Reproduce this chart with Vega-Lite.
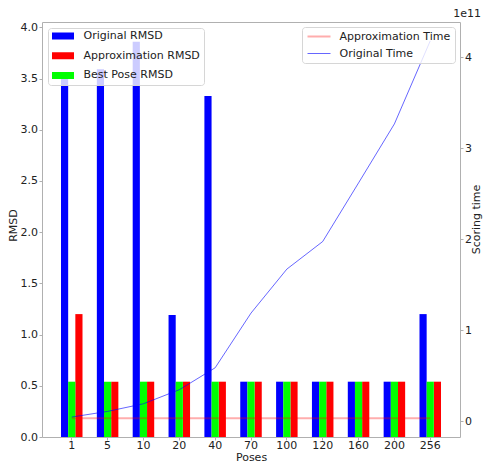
{
  "$schema": "https://vega.github.io/schema/vega-lite/v6.json",
  "width": 418,
  "height": 415,
  "autosize": {"type": "none"},
  "padding": {"left": 42, "top": 22, "right": 23, "bottom": 25},
  "background": "white",
  "config": {
    "font": "DejaVu Sans",
    "view": {"stroke": "#b0b0b0", "strokeWidth": 1},
    "axis": {
      "domain": false,
      "grid": false,
      "tickColor": "#b0b0b0",
      "tickSize": 3,
      "labelPadding": 1.5,
      "labelFontSize": 11,
      "labelColor": "#222222",
      "labelFont": "DejaVu Sans",
      "titleFont": "DejaVu Sans",
      "titleFontSize": 11,
      "titleFontWeight": "normal",
      "titleColor": "#222222"
    },
    "legend": {
      "labelFont": "DejaVu Sans",
      "labelFontSize": 11,
      "labelColor": "#222222",
      "fillColor": "rgba(255,255,255,0.8)",
      "strokeColor": "#d6d6d6",
      "cornerRadius": 3,
      "title": null
    }
  },
  "title": {
    "text": "1e11",
    "anchor": "end",
    "fontSize": 11,
    "fontWeight": "normal",
    "font": "DejaVu Sans",
    "color": "#222222",
    "offset": 2
  },
  "datasets": {
    "rmsd": [
      {"pose": "1", "series": "Original RMSD", "rmsd": 3.56},
      {"pose": "5", "series": "Original RMSD", "rmsd": 3.59},
      {"pose": "10", "series": "Original RMSD", "rmsd": 3.86},
      {"pose": "20", "series": "Original RMSD", "rmsd": 1.19},
      {"pose": "40", "series": "Original RMSD", "rmsd": 3.33},
      {"pose": "70", "series": "Original RMSD", "rmsd": 0.54},
      {"pose": "100", "series": "Original RMSD", "rmsd": 0.54},
      {"pose": "120", "series": "Original RMSD", "rmsd": 0.54},
      {"pose": "160", "series": "Original RMSD", "rmsd": 0.54},
      {"pose": "200", "series": "Original RMSD", "rmsd": 0.54},
      {"pose": "256", "series": "Original RMSD", "rmsd": 1.2},
      {"pose": "1", "series": "Approximation RMSD", "rmsd": 1.2},
      {"pose": "5", "series": "Approximation RMSD", "rmsd": 0.54},
      {"pose": "10", "series": "Approximation RMSD", "rmsd": 0.54},
      {"pose": "20", "series": "Approximation RMSD", "rmsd": 0.54},
      {"pose": "40", "series": "Approximation RMSD", "rmsd": 0.54},
      {"pose": "70", "series": "Approximation RMSD", "rmsd": 0.54},
      {"pose": "100", "series": "Approximation RMSD", "rmsd": 0.54},
      {"pose": "120", "series": "Approximation RMSD", "rmsd": 0.54},
      {"pose": "160", "series": "Approximation RMSD", "rmsd": 0.54},
      {"pose": "200", "series": "Approximation RMSD", "rmsd": 0.54},
      {"pose": "256", "series": "Approximation RMSD", "rmsd": 0.54},
      {"pose": "1", "series": "Best Pose RMSD", "rmsd": 0.54},
      {"pose": "5", "series": "Best Pose RMSD", "rmsd": 0.54},
      {"pose": "10", "series": "Best Pose RMSD", "rmsd": 0.54},
      {"pose": "20", "series": "Best Pose RMSD", "rmsd": 0.54},
      {"pose": "40", "series": "Best Pose RMSD", "rmsd": 0.54},
      {"pose": "70", "series": "Best Pose RMSD", "rmsd": 0.54},
      {"pose": "100", "series": "Best Pose RMSD", "rmsd": 0.54},
      {"pose": "120", "series": "Best Pose RMSD", "rmsd": 0.54},
      {"pose": "160", "series": "Best Pose RMSD", "rmsd": 0.54},
      {"pose": "200", "series": "Best Pose RMSD", "rmsd": 0.54},
      {"pose": "256", "series": "Best Pose RMSD", "rmsd": 0.54}
    ],
    "times": [
      {"pose": "1", "series": "Approximation Time", "time": 3600000000},
      {"pose": "5", "series": "Approximation Time", "time": 3600000000},
      {"pose": "10", "series": "Approximation Time", "time": 3600000000},
      {"pose": "20", "series": "Approximation Time", "time": 3600000000},
      {"pose": "40", "series": "Approximation Time", "time": 3600000000},
      {"pose": "70", "series": "Approximation Time", "time": 3600000000},
      {"pose": "100", "series": "Approximation Time", "time": 3600000000},
      {"pose": "120", "series": "Approximation Time", "time": 3600000000},
      {"pose": "160", "series": "Approximation Time", "time": 3600000000},
      {"pose": "200", "series": "Approximation Time", "time": 3600000000},
      {"pose": "256", "series": "Approximation Time", "time": 3600000000},
      {"pose": "1", "series": "Original Time", "time": 4800000000},
      {"pose": "5", "series": "Original Time", "time": 11000000000},
      {"pose": "10", "series": "Original Time", "time": 19400000000},
      {"pose": "20", "series": "Original Time", "time": 34800000000},
      {"pose": "40", "series": "Original Time", "time": 58900000000},
      {"pose": "70", "series": "Original Time", "time": 119000000000},
      {"pose": "100", "series": "Original Time", "time": 167300000000},
      {"pose": "120", "series": "Original Time", "time": 197600000000},
      {"pose": "160", "series": "Original Time", "time": 262000000000},
      {"pose": "200", "series": "Original Time", "time": 326800000000},
      {"pose": "256", "series": "Original Time", "time": 418000000000}
    ]
  },
  "encoding": {
    "x": {
      "field": "pose",
      "type": "ordinal",
      "scale": {
        "type": "band",
        "domain": ["1", "5", "10", "20", "40", "70", "100", "120", "160", "200", "256"],
        "paddingInner": 0,
        "paddingOuter": 0.33
      },
      "axis": {"title": "Poses", "labelAngle": 0, "labelPadding": -1, "titleBaseline": "alphabetic", "titleY": 23}
    }
  },
  "layer": [
    {
      "data": {"name": "rmsd"},
      "mark": {"type": "bar"},
      "encoding": {
        "xOffset": {
          "field": "series",
          "scale": {
            "domain": ["Original RMSD", "Best Pose RMSD", "Approximation RMSD"],
            "paddingInner": 0,
            "paddingOuter": 1
          }
        },
        "y": {
          "field": "rmsd",
          "type": "quantitative",
          "scale": {"domain": [0, 4.052], "nice": false, "zero": true},
          "axis": {
            "title": "RMSD",
            "values": [0, 0.5, 1, 1.5, 2, 2.5, 3, 3.5, 4],
            "format": ".1f",
            "titlePadding": 1.5,
            "titleY": 203
          }
        },
        "color": {
          "field": "series",
          "type": "nominal",
          "scale": {
            "domain": ["Original RMSD", "Approximation RMSD", "Best Pose RMSD"],
            "range": ["#0000ff", "#ff0000", "#00ff00"]
          },
          "legend": {
            "orient": "top-left",
            "offset": 6,
            "padding": 4,
            "symbolType": "M-1,-0.32H1V0.32H-1Z",
            "symbolSize": 484,
            "symbolStrokeWidth": 0,
            "symbolOpacity": 1,
            "clipHeight": 8,
            "rowPadding": 8.7,
            "labelOffset": 9.5
          }
        }
      }
    },
    {
      "data": {"name": "times"},
      "mark": {"type": "line"},
      "encoding": {
        "y": {
          "field": "time",
          "type": "quantitative",
          "scale": {"domain": [-17120000000, 438750000000], "nice": false, "zero": false},
          "axis": {
            "orient": "right",
            "title": "Scoring time",
            "values": [0, 100000000000, 200000000000, 300000000000, 400000000000],
            "labelExpr": "format(datum.value / 1e11, 'd')",
            "titleAngle": 270,
            "titleAlign": "center",
            "titleBaseline": "alphabetic",
            "titleX": 19,
            "titleY": 197
          }
        },
        "color": {
          "field": "series",
          "type": "nominal",
          "scale": {
            "domain": ["Approximation Time", "Original Time"],
            "range": ["rgba(255,0,0,0.32)", "rgba(0,0,255,0.6)"]
          },
          "legend": {
            "orient": "top-right",
            "offset": 5,
            "padding": 4.5,
            "symbolType": "stroke",
            "symbolSize": 529,
            "symbolStrokeWidth": 1.5,
            "clipHeight": 10,
            "rowPadding": 6,
            "labelOffset": 8
          }
        },
        "strokeWidth": {
          "field": "series",
          "type": "nominal",
          "scale": {"domain": ["Approximation Time", "Original Time"], "range": [2, 1]},
          "legend": null
        }
      }
    }
  ],
  "resolve": {"scale": {"y": "independent", "color": "independent", "strokeWidth": "independent"}}
}
